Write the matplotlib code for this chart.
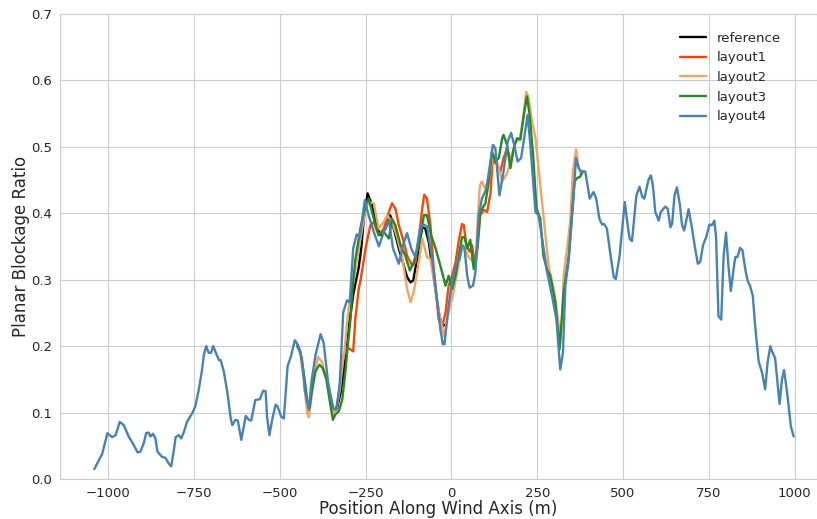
import numpy as np
import matplotlib
matplotlib.use("Agg")
import matplotlib.pyplot as plt
import seaborn as sns

# Datos
x_ref = [-343, -333, -323, -314, -304, -296, -285, -270, -262, -255, -244, -231, -216, -205,
         -192, -178, -168, -153, -144, -129, -119, -111, -100, -85, -76, -66, -52, -37, -27, -20]
y_ref = [0.104, 0.107, 0.129, 0.160, 0.200, 0.240, 0.280, 0.318, 0.350, 0.392, 0.430, 0.412, 0.377, 0.367,
         0.377, 0.397, 0.377, 0.347, 0.331, 0.304, 0.296, 0.299, 0.331, 0.379, 0.377, 0.357, 0.306, 0.251, 0.230, 0.232]

x_l1 = [-343, -333, -323, -314, -304, -294, -286, -280, -270, -265, -250, -236, -226, -212, -197, -182,
        -173, -163, -153, -139, -129, -114, -105, -95, -85, -79, -71, -61, -52, -37, -27, -17, -8, 2,
        12, 21, 31, 36, 44, 53, 60, 70, 77, 84, 94, 104, 114, 120, 133, 143, 152, 162, 172, 180]
y_l1 = [0.100, 0.110, 0.145, 0.185, 0.198, 0.195, 0.192, 0.240, 0.286, 0.298, 0.347, 0.382, 0.387, 0.367, 0.377, 0.402,
        0.415, 0.407, 0.382, 0.357, 0.336, 0.321, 0.326, 0.362, 0.407, 0.428, 0.422, 0.382, 0.321, 0.240, 0.228, 0.251, 0.291, 0.306,
        0.326, 0.357, 0.384, 0.382, 0.352, 0.342, 0.352, 0.321, 0.352, 0.397, 0.405, 0.402, 0.430, 0.480, 0.473, 0.463, 0.483, 0.498, 0.480, 0.490]

x_l2 = [-449, -440, -430, -420, -415, -406, -396, -388, -376, -362, -352, -344, -335, -325, -318, -311,
        -304, -296, -285, -275, -265, -250, -241, -226, -212, -197, -187, -173, -160, -144, -129, -119,
        -110, -95, -85, -71, -61, -47, -32, -22, -8, 2, 17, 31, 41, 50, 60, 70, 77, 83, 89, 99, 109,
        118, 128, 138, 148, 162, 172, 186, 199, 209, 218, 225, 235, 245, 254, 268, 283, 298, 312, 317,
        322, 327, 337, 346, 354, 363, 371, 378]
y_l2 = [0.200, 0.188, 0.150, 0.099, 0.093, 0.130, 0.165, 0.184, 0.175, 0.145, 0.114, 0.097, 0.107, 0.134, 0.170, 0.195,
        0.235, 0.271, 0.300, 0.330, 0.361, 0.407, 0.417, 0.415, 0.377, 0.387, 0.397, 0.387, 0.367, 0.336, 0.286, 0.266,
        0.281, 0.326, 0.362, 0.334, 0.331, 0.286, 0.240, 0.215, 0.251, 0.271, 0.311, 0.347, 0.344, 0.334, 0.329, 0.321, 0.392, 0.442, 0.448, 0.437, 0.453,
        0.478, 0.488, 0.468, 0.448, 0.460, 0.478, 0.508, 0.511, 0.543, 0.583, 0.574, 0.538, 0.513, 0.468, 0.397, 0.321, 0.286, 0.235, 0.205,
        0.235, 0.306, 0.347, 0.387, 0.463, 0.496, 0.468, 0.458]

x_l3 = [-449, -440, -430, -420, -413, -406, -396, -384, -375, -364, -354, -345, -338, -328, -318, -309,
        -302, -294, -289, -280, -272, -265, -250, -241, -226, -212, -197, -182, -173, -163, -148, -134,
        -121, -110, -95, -80, -71, -58, -47, -32, -17, -8, 2, 12, 21, 31, 38, 46, 55, 65, 75, 84, 99,
        109, 118, 128, 138, 148, 152, 162, 172, 181, 191, 201, 211, 220, 228, 238, 248, 259, 268, 278,
        288, 303, 315, 327, 342, 351, 359, 366, 375, 383]
y_l3 = [0.200, 0.192, 0.160, 0.119, 0.107, 0.134, 0.162, 0.172, 0.167, 0.150, 0.117, 0.089, 0.097, 0.102, 0.119, 0.160,
        0.200, 0.240, 0.281, 0.330, 0.355, 0.377, 0.412, 0.422, 0.392, 0.367, 0.372, 0.362, 0.392, 0.382, 0.352, 0.336,
        0.314, 0.326, 0.352, 0.397, 0.397, 0.365, 0.349, 0.321, 0.291, 0.306, 0.286, 0.306, 0.334, 0.364, 0.364, 0.347, 0.360, 0.316, 0.347, 0.402, 0.415,
        0.448, 0.493, 0.478, 0.483, 0.513, 0.518, 0.503, 0.468, 0.496, 0.513, 0.511, 0.548, 0.576, 0.548, 0.488, 0.407, 0.392, 0.336, 0.316,
        0.306, 0.266, 0.195, 0.281, 0.336, 0.397, 0.448, 0.453, 0.455, 0.463]

x_l4 = [-1040, -1017, -1002, -988, -978, -966, -954, -940, -925, -914, -906, -896, -889, -882, -877, -869,
        -862, -856, -842, -833, -823, -816, -810, -803, -794, -787, -779, -770, -755, -746, -736, -726,
        -721, -714, -707, -700, -694, -686, -677, -672, -663, -653, -643, -638, -629, -622, -612, -599,
        -590, -583, -571, -558, -548, -541, -537, -530, -522, -512, -506, -496, -488, -477, -467, -456,
        -445, -435, -427, -415, -408, -396, -381, -372, -359, -344, -335, -325, -315, -304, -296, -286,
        -276, -267, -252, -241, -226, -211, -197, -182, -170, -153, -141, -129, -117, -105, -90, -80,
        -71, -56, -42, -32, -25, -20, -8, 2, 17, 24, 31, 38, 46, 53, 63, 70, 80, 89, 102, 111, 121,
        128, 140, 152, 164, 174, 183, 193, 203, 212, 222, 230, 245, 254, 267, 279, 293, 306, 312, 317,
        325, 332, 342, 354, 363, 371, 378, 390, 403, 414, 422, 431, 439, 445, 453, 463, 473, 479, 490,
        505, 511, 519, 526, 539, 548, 556, 562, 574, 581, 587, 594, 604, 610, 623, 630, 638, 643, 650,
        657, 665, 672, 678, 691, 701, 710, 718, 725, 733, 742, 752, 759, 766, 771, 778, 786, 793, 800,
        807, 814, 822, 827, 833, 841, 848, 856, 863, 870, 878, 885, 895, 905, 914, 921, 929, 935, 943,
        950, 956, 963, 969, 977, 989, 997]
y_l4 = [0.015, 0.038, 0.069, 0.063, 0.066, 0.086, 0.081, 0.064, 0.051, 0.040, 0.041, 0.054, 0.069, 0.070, 0.064, 0.068,
        0.061, 0.041, 0.033, 0.032, 0.023, 0.019, 0.038, 0.063, 0.066, 0.061, 0.071, 0.086, 0.099, 0.109, 0.134, 0.165,
        0.187, 0.200, 0.190, 0.190, 0.200, 0.190, 0.179, 0.179, 0.162, 0.132, 0.092, 0.081, 0.089, 0.088, 0.059, 0.095,
        0.089, 0.088, 0.119, 0.120, 0.133, 0.132, 0.094, 0.066, 0.089, 0.112, 0.109, 0.094, 0.091, 0.170, 0.185, 0.209,
        0.200, 0.180, 0.134, 0.104, 0.145, 0.186, 0.218, 0.205, 0.145, 0.107, 0.104, 0.145, 0.251, 0.269, 0.266, 0.347,
        0.368, 0.364, 0.420, 0.397, 0.372, 0.350, 0.372, 0.389, 0.347, 0.324, 0.352, 0.370, 0.347, 0.334, 0.380, 0.383,
        0.380, 0.331, 0.271, 0.225, 0.203, 0.203, 0.261, 0.296, 0.329, 0.331, 0.352, 0.349, 0.306, 0.288, 0.291, 0.311, 0.397, 0.422, 0.437, 0.468, 0.503,
        0.498, 0.427, 0.463, 0.508, 0.521, 0.503, 0.478, 0.483, 0.513, 0.548, 0.503, 0.402, 0.397, 0.352, 0.311, 0.276, 0.240, 0.200, 0.165,
        0.190, 0.291, 0.331, 0.412, 0.483, 0.468, 0.463, 0.463, 0.422, 0.432, 0.422, 0.392, 0.383, 0.384, 0.377, 0.339, 0.304, 0.301, 0.336,
        0.417, 0.392, 0.362, 0.358, 0.427, 0.440, 0.425, 0.422, 0.450, 0.457, 0.442, 0.402, 0.389, 0.402, 0.410, 0.407, 0.379, 0.384, 0.427,
        0.439, 0.415, 0.382, 0.374, 0.406, 0.377, 0.347, 0.324, 0.327, 0.352, 0.364, 0.383, 0.382, 0.389, 0.364, 0.245, 0.240, 0.336, 0.371,
        0.321, 0.283, 0.316, 0.334, 0.334, 0.348, 0.344, 0.316, 0.298, 0.291, 0.276, 0.230, 0.177, 0.160, 0.135, 0.175, 0.200, 0.191, 0.182,
        0.145, 0.113, 0.150, 0.164, 0.134, 0.079, 0.064]

series = [
    ("reference", x_ref, y_ref, "black"),
    ("layout1", x_l1, y_l1, "orangered"),
    ("layout2", x_l2, y_l2, "sandybrown"),
    ("layout3", x_l3, y_l3, "forestgreen"),
    ("layout4", x_l4, y_l4, "steelblue"),
]

sns.set_style("whitegrid")
fig = plt.figure(figsize=(8.17, 5.19), dpi=100)
ax = fig.add_axes([60/817, 40/519, 1 - 60/817, 465/519])

for nombre, xs, ys, color in series:
    ax.plot(xs, ys, color=color, lw=1.7, label=nombre)

ax.set_xlim(-1140, 1065)
ax.set_ylim(0, 0.7)
ax.set_xticks([-1000, -750, -500, -250, 0, 250, 500, 750, 1000])
ax.set_xlabel("Position Along Wind Axis (m)", fontsize=12, labelpad=0)
ax.set_ylabel("Planar Blockage Ratio", fontsize=12, labelpad=1)
ax.tick_params(labelsize=9.5, pad=2)
ax.legend(loc="upper left", bbox_to_anchor=(668/817, 1 - 20/519),
          bbox_transform=fig.transFigure, frameon=False, fontsize=9.5)

fig.savefig("out.png", dpi=100)
